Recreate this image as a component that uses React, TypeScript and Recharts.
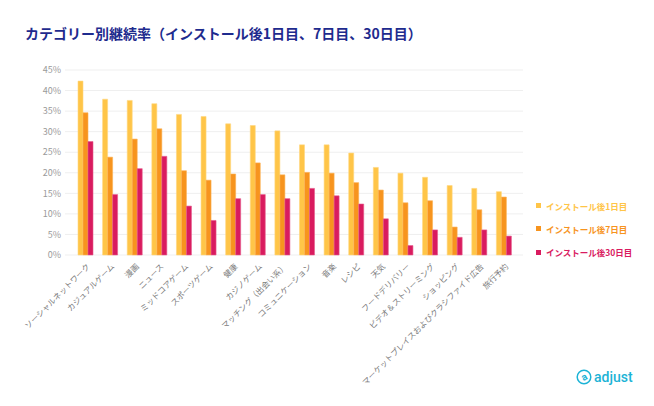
import React from 'react';
import { BarChart, Bar, XAxis, YAxis, CartesianGrid, Legend } from 'recharts';

const categories = [
  'ソーシャルネットワーク', 'カジュアルゲーム', '漫画', 'ニュース', 'ミッドコアゲーム', 'スポーツゲーム',
  '健康', 'カジノゲーム', 'マッチング（出会い系）', 'コミュニケーション', '音楽', 'レシピ', '天気',
  'フードデリバリー', 'ビデオ＆ストリーミング', 'ショッピング', 'マーケットプレイスおよびクラシファイド広告', '旅行予約',
];
const day1 = [42.3, 37.9, 37.6, 36.8, 34.2, 33.7, 31.9, 31.5, 30.2, 26.8, 26.8, 24.8, 21.3, 19.9, 18.9, 16.9, 16.2, 15.4];
const day7 = [34.6, 23.8, 28.2, 30.7, 20.5, 18.2, 19.7, 22.4, 19.5, 20.1, 19.9, 17.6, 15.8, 12.7, 13.2, 6.8, 11.0, 14.1];
const day30 = [27.6, 14.7, 21.0, 24.0, 11.9, 8.4, 13.7, 14.7, 13.7, 16.2, 14.4, 12.4, 8.8, 2.3, 6.1, 4.3, 6.1, 4.6];
const yTicks = [0, 5, 10, 15, 20, 25, 30, 35, 40, 45];
const seriesNames = ['インストール後1日目', 'インストール後7日目', 'インストール後30日目'];
const seriesKeys = ['d1', 'd7', 'd30'];
const seriesColors = ['#FFC548', '#F7941E', '#D91B5F'];
const seriesStrokes = ['#FFD77F', '#FBB254', '#E65A8C'];
const title = 'カテゴリー別継続率（インストール後1日目、7日目、30日目）';

const data = categories.map((c, i) => ({ name: c, d1: day1[i], d7: day7[i], d30: day30[i] }));

const FONT = '"Noto Sans CJK JP", "Noto Sans", sans-serif';

const XTick = (props: any) => {
  const { x, y, payload } = props;
  return (
    <g transform={`translate(${x + 3},${y})`}>
      <text x={0} y={0} dy={3} textAnchor="end" transform="rotate(-45)" fontSize={8} fill="#7a7a7a" fontFamily={FONT}>
        {payload.value}
      </text>
    </g>
  );
};

const LegendContent = () => (
  <div style={{ fontFamily: FONT }}>
    {seriesNames.map((n, i) => (
      <div key={n} style={{ display: 'flex', alignItems: 'center', height: 23.3 }}>
        <div style={{ width: 5, height: 5, background: seriesColors[i], marginRight: 5 }} />
        <span style={{ fontSize: 8.5, fontWeight: 700, color: seriesColors[i], whiteSpace: 'nowrap' }}>{n}</span>
      </div>
    ))}
  </div>
);

export default function App() {
  return (
    <div style={{ position: 'absolute', left: 0, top: 0, width: 654, height: 406, background: '#fff', fontFamily: FONT }}>
      <div style={{ position: 'absolute', left: 25, top: 24, fontSize: 14, lineHeight: '18px', fontWeight: 700, color: '#1e2b8e', whiteSpace: 'nowrap' }}>
        {title}
      </div>
      <BarChart width={654} height={406} data={data} margin={{ top: 70, right: 21, bottom: 1, left: 0 }} barGap={0} barCategoryGap={5}>
        <CartesianGrid vertical={false} stroke="#efefef" />
        <XAxis dataKey="name" interval={0} height={150} tickLine={false} axisLine={false} tick={<XTick />} padding={{ left: 8, right: 7 }} tickMargin={4} />
        <YAxis domain={[0, 45]} ticks={yTicks} interval={0} width={65} axisLine={false} tickLine={false} tickSize={0} tickMargin={4}
          tickFormatter={(v: number) => `${v}%`} tick={{ fontSize: 9, fill: '#9a9a9a', fontFamily: FONT }} />
        <Legend layout="vertical" align="right" verticalAlign="middle" content={<LegendContent />}
          wrapperStyle={{ position: 'absolute', left: 536, top: 194, width: 110 }} />
        {seriesKeys.map((k, i) => (
          <Bar key={k} dataKey={k} name={seriesNames[i]} fill={seriesColors[i]} stroke={seriesStrokes[i]} strokeWidth={0.6} barSize={5} isAnimationActive={false} />
        ))}
      </BarChart>
      <div style={{ position: 'absolute', left: 576, top: 369, display: 'flex', alignItems: 'center' }}>
        <svg width={16} height={16} viewBox="0 0 16 16">
          <circle cx={8} cy={8} r={6.8} fill="none" stroke="#1CB3D6" strokeWidth={1.5} />
          <text x={8} y={11.5} textAnchor="middle" fontSize={10} fontWeight={700} fill="#1CB3D6" fontFamily="Roboto, sans-serif" transform="rotate(-30 8 8)">a</text>
        </svg>
        <span style={{ marginLeft: 2, fontSize: 14, color: '#1CB3D6', fontFamily: 'Roboto, sans-serif', fontWeight: 500, lineHeight: '16px' }}>adjust</span>
      </div>
    </div>
  );
}
